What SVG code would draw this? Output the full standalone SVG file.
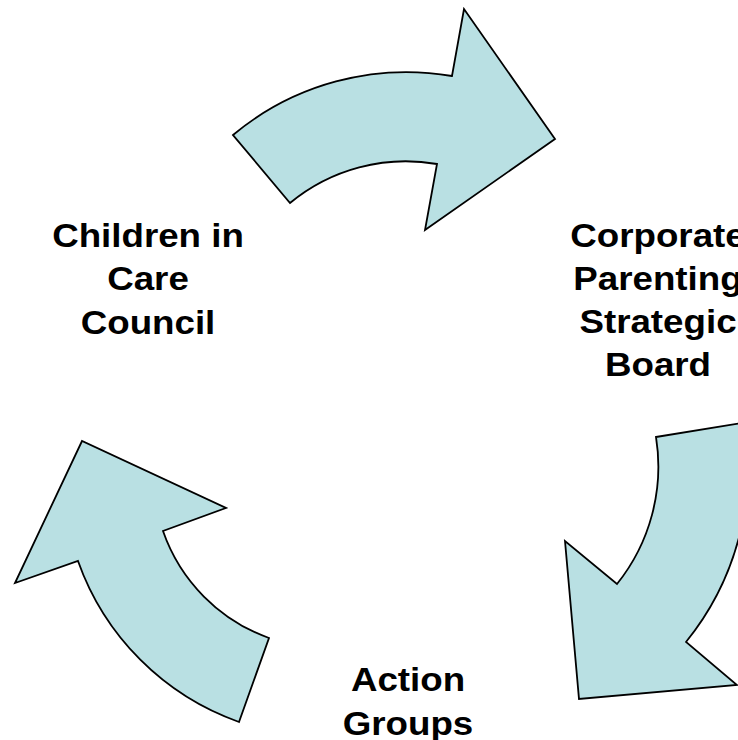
<svg xmlns="http://www.w3.org/2000/svg" width="738" height="740" viewBox="0 0 738 740">
  <style>
    .arrow { fill: #B9E0E3; stroke: #000000; stroke-width: 1.8; stroke-linejoin: miter; }
    .label { font-family: "Liberation Sans", Arial, sans-serif; font-weight: bold; font-size: 34px; fill: #000000; text-anchor: middle; }
  </style>

  <rect width="738" height="740" fill="#FFFFFF"/>

  <!-- curved block arrows forming the cycle -->
  <g id="connectors">
    <path id="arrow-top" class="arrow" d="M 233,135 A 270.4 270.4 0 0 1 452,76 L 464,9 L 555,139 L 425,230 L 437,164 A 181.3 181.3 0 0 0 290,203 Z"/>
    <path id="arrow-right" class="arrow" d="M 656,437 L 744.5,422.6 A 277.5 277.5 0 0 1 686,642 L 737,685 L 579,699 L 565,541 L 617,584 A 187.6 187.6 0 0 0 656,437 Z"/>
    <path id="arrow-left" class="arrow" d="M 239,722 L 269,638 A 174.6 174.6 0 0 1 163,531 L 226,508 L 82,441 L 15,583 L 78,561 A 264.4 264.4 0 0 0 239,722 Z"/>
  </g>

  <!-- labels are set slightly wide -->
  <g id="node-children-in-care-council" transform="translate(148 0) scale(1.08 1)">
    <text class="label" x="0" y="247">Children in</text>
    <text class="label" x="0" y="290">Care</text>
    <text class="label" x="0" y="334">Council</text>
  </g>

  <g id="node-corporate-parenting-board" transform="translate(658 0) scale(1.08 1)">
    <text class="label" x="0" y="247">Corporate</text>
    <text class="label" x="0" y="290">Parenting</text>
    <text class="label" x="0" y="333">Strategic</text>
    <text class="label" x="0" y="376">Board</text>
  </g>

  <g id="node-action-groups" transform="translate(408 0) scale(1.08 1)">
    <text class="label" x="0" y="691">Action</text>
    <text class="label" x="0" y="735">Groups</text>
  </g>
</svg>
